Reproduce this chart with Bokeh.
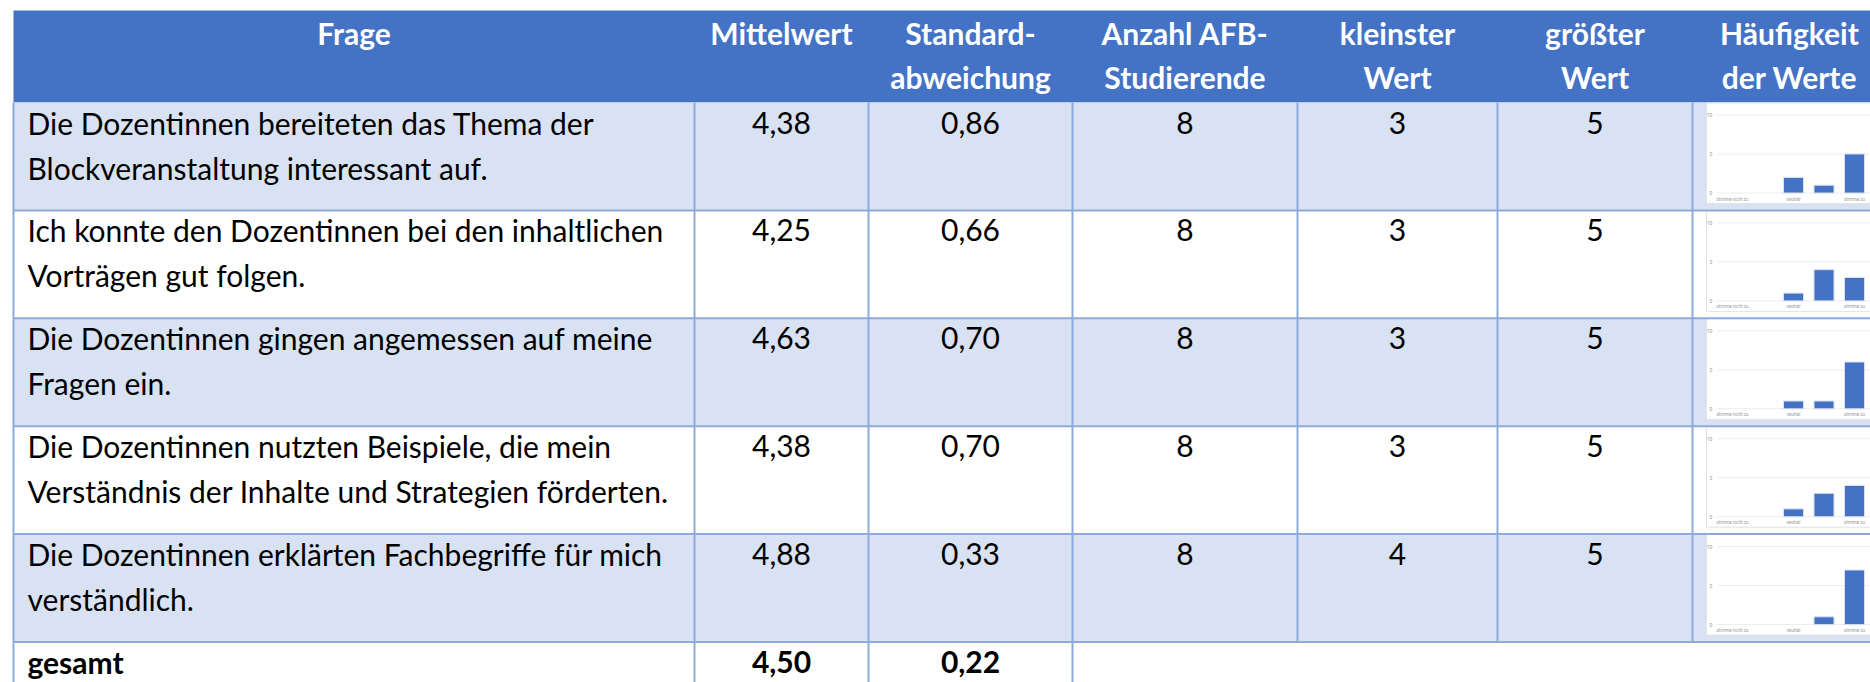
from bokeh.plotting import figure
from bokeh.models import Range1d, ColumnDataSource
from bokeh.core.properties import value
from bokeh.embed import file_html
from bokeh.resources import INLINE

# ---------------- data ----------------
HEADERS = [["Frage"], ["Mittelwert"], ["Standard-", "abweichung"], ["Anzahl AFB-", "Studierende"],
           ["kleinster", "Wert"], ["größter", "Wert"], ["Häufigkeit", "der Werte"]]
QUESTIONS = [
    ["Die Dozentinnen bereiteten das Thema der", "Blockveranstaltung interessant auf."],
    ["Ich konnte den Dozentinnen bei den inhaltlichen", "Vorträgen gut folgen."],
    ["Die Dozentinnen gingen angemessen auf meine", "Fragen ein."],
    ["Die Dozentinnen nutzten Beispiele, die mein", "Verständnis der Inhalte und Strategien förderten."],
    ["Die Dozentinnen erklärten Fachbegriffe für mich", "verständlich."],
]
MEAN = [4.38, 4.25, 4.63, 4.38, 4.88]
SD = [0.86, 0.66, 0.70, 0.70, 0.33]
N_AFB = [8, 8, 8, 8, 8]
MIN_VAL = [3, 3, 3, 3, 4]
MAX_VAL = [5, 5, 5, 5, 5]
TOTAL_LABEL = "gesamt"
TOTAL_MEAN = 4.50
TOTAL_SD = 0.22

SCALE = [1, 2, 3, 4, 5]
SCALE_LABELS = ["stimme nicht zu", "", "neutral", "", "stimme zu"]
FREQ = [
    [0, 0, 2, 1, 5],
    [0, 0, 1, 4, 3],
    [0, 0, 1, 1, 6],
    [0, 0, 1, 3, 4],
    [0, 0, 0, 1, 7],
]
FREQ_TICKS = [0, 5, 10]

# ---------------- layout / style ----------------
W, H = 1870, 682
OX, OY = 0, 0
COLS = [13, 694, 868, 1072, 1297, 1497, 1692, 1900]
HEAD_TOP, HEAD_BOT = 10, 102
ROW_H = 107.9
ROW_TOPS = [HEAD_BOT + i * ROW_H for i in range(6)]
BOTTOM = 760
BLUE = "#4472C4"
BAND = "#D9E2F3"
GRID = "#8EAADB"
FONT = value("Lato")
FS = "30px"
SHIFT = 10
BL1, BL2 = 30 - SHIFT, 75 - SHIFT     # baselines below row top
HB1, HB2 = 42 - SHIFT, 86 - SHIFT     # header baselines
TEXT_X = 27
CAT_X0, CAT_DX = 1732, 30.5
UNIT_Y = 7.8
ZERO_OFF = 90.5

def fmt(v):
    return f"{v:.2f}".replace(".", ",")

p = figure(width=W, height=H, x_range=Range1d(OX, OX + W), y_range=Range1d(OY + H, OY),
           x_axis_location=None, y_axis_location=None, min_border=0,
           toolbar_location=None, output_backend="svg", tools="")
p.outline_line_color = None
p.grid.visible = False
p.background_fill_color = "white"

# header
p.quad(left=[COLS[0]], right=[COLS[-1]], top=[HEAD_TOP], bottom=[HEAD_BOT], fill_color=BLUE, line_color=None)
# row bands
for i in range(5):
    p.quad(left=[COLS[0]], right=[COLS[-1]], top=[ROW_TOPS[i]], bottom=[ROW_TOPS[i + 1]],
           fill_color=BAND if i % 2 == 0 else "white", line_color=None)
# chart boxes
for i in range(5):
    p.quad(left=[1706], right=[COLS[-1]], top=[ROW_TOPS[i] + 0.5], bottom=[ROW_TOPS[i] + 101],
           fill_color="white", line_color="#E3E3E3", line_width=1)

# grid lines
hl_y = ROW_TOPS[1:6]
p.segment(x0=[COLS[0]] * len(hl_y), x1=[COLS[-1]] * len(hl_y), y0=hl_y, y1=hl_y, line_color=GRID, line_width=2)
for j, x in enumerate(COLS[:-1]):
    yb = BOTTOM if j <= 3 else ROW_TOPS[5]
    p.segment(x0=[x], x1=[x], y0=[HEAD_BOT], y1=[yb], line_color=GRID, line_width=2)

# header text
hx, hy, ht = [], [], []
for j, lines in enumerate(HEADERS):
    cx = (COLS[j] + COLS[j + 1]) / 2 if j < 6 else 1789
    for k, t in enumerate(lines):
        hx.append(cx); hy.append(HB1 if k == 0 else HB2); ht.append(t)
p.text(x=hx, y=hy, text=ht, text_font=FONT, text_font_size=FS, text_font_style="bold",
       text_color="white", text_align="center", text_baseline="alphabetic")

# body text
qx, qy, qt = [], [], []
for i, lines in enumerate(QUESTIONS):
    for k, t in enumerate(lines):
        qx.append(TEXT_X); qy.append(ROW_TOPS[i] + (BL1 if k == 0 else BL2)); qt.append(t)
p.text(x=qx, y=qy, text=qt, text_font=FONT, text_font_size=FS, text_color="black",
       text_align="left", text_baseline="alphabetic")

nx, ny, nt = [], [], []
for i in range(5):
    vals = [fmt(MEAN[i]), fmt(SD[i]), str(N_AFB[i]), str(MIN_VAL[i]), str(MAX_VAL[i])]
    for j, t in enumerate(vals):
        nx.append((COLS[j + 1] + COLS[j + 2]) / 2); ny.append(ROW_TOPS[i] + BL1); nt.append(t)
p.text(x=nx, y=ny, text=nt, text_font=FONT, text_font_size=FS, text_color="black",
       text_align="center", text_baseline="alphabetic")

# total row
p.text(x=[TEXT_X], y=[ROW_TOPS[5] + BL1], text=[TOTAL_LABEL], text_font=FONT, text_font_size=FS,
       text_font_style="bold", text_color="black", text_align="left", text_baseline="alphabetic")
p.text(x=[(COLS[1] + COLS[2]) / 2, (COLS[2] + COLS[3]) / 2], y=[ROW_TOPS[5] + BL1] * 2,
       text=[fmt(TOTAL_MEAN), fmt(TOTAL_SD)], text_font=FONT, text_font_size=FS,
       text_font_style="bold", text_color="black", text_align="center", text_baseline="alphabetic")

# mini bar charts (own scales via extra ranges)
xs = 1 - (CAT_X0 - OX) / CAT_DX
p.extra_x_ranges = {"cx": Range1d(xs, xs + W / CAT_DX)}
yr = {}
for i in range(5):
    z = ROW_TOPS[i] + ZERO_OFF
    s = (z - OY - H) / UNIT_Y
    yr[f"cy{i}"] = Range1d(s, s + H / UNIT_Y)
p.extra_y_ranges = yr

for i in range(5):
    rn = f"cy{i}"
    p.segment(x0=[0.5] * 3, x1=[7] * 3, y0=FREQ_TICKS, y1=FREQ_TICKS, line_color="#ECECEC",
              line_width=1, x_range_name="cx", y_range_name=rn)
    p.text(x=[0.5] * 3, y=FREQ_TICKS, text=[str(t) for t in FREQ_TICKS], x_offset=-5,
           text_font=value("Roboto"), text_font_size="5px", text_color="#9A9A9A",
           text_align="right", text_baseline="middle", x_range_name="cx", y_range_name=rn)
    src = ColumnDataSource(dict(x=[c for c, f in zip(SCALE, FREQ[i]) if f > 0],
                                top=[f for f in FREQ[i] if f > 0]))
    p.vbar(x="x", top="top", bottom=0, width=20 / CAT_DX, source=src, fill_color=BLUE,
           line_color="#D6E0F2", line_width=1, x_range_name="cx", y_range_name=rn)
    p.text(x=SCALE, y=[0] * 5, text=SCALE_LABELS, y_offset=6, text_font=value("Roboto"),
           text_font_size="4.5px", text_color="#9A9A9A", text_align="center",
           text_baseline="middle", x_range_name="cx", y_range_name=rn)

open("out.html", "w").write(file_html(p, INLINE))
